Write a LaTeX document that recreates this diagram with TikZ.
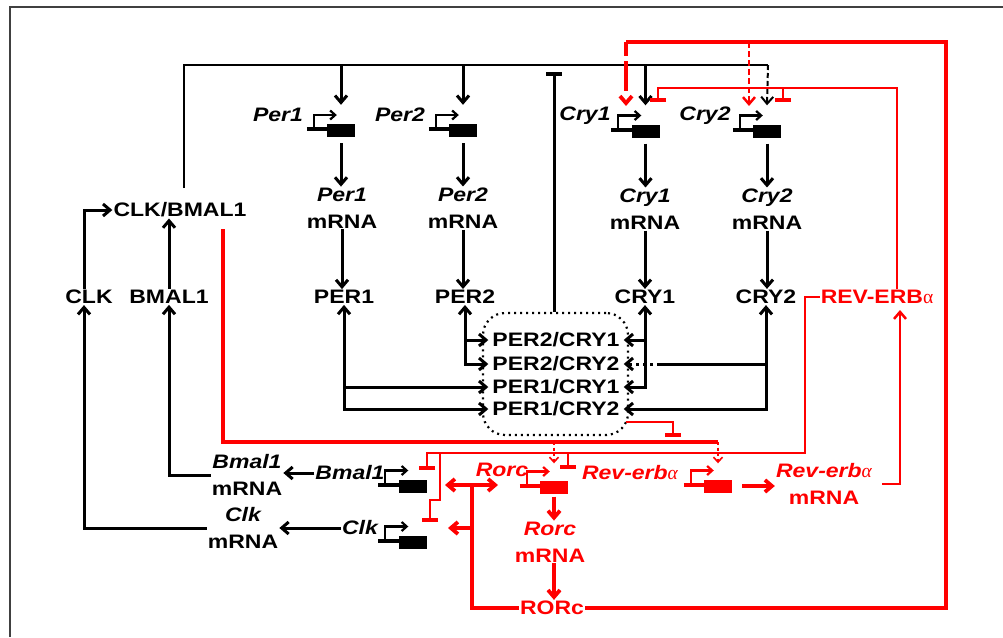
\documentclass[tikz,border=0pt]{standalone}
\usepackage{fontspec}
\setmainfont{Liberation Sans}[FakeStretch=1.18]
\newfontfamily\alf{Liberation Serif}
\usetikzlibrary{arrows.meta,calc}
\newcommand\gene[4]{%
  \node[genebox=#4] (#1) at (#2,#3) {};
  \draw[#4, line width=4pt] ($(#1.west)+(-20,-1.5)$) -- ($(#1.west)+(0.5,-1.5)$);
  \draw[#4, line width=2.2pt, -{Straight Barb[length=5pt,width=9pt]}] ($(#1.west)+(-13,-1.5)$) -- ($(#1.west)+(-13,-15.5)$) -- ($(#1.west)+(10,-15.5)$);
}
\begin{document}
\begin{tikzpicture}[x=1pt,y=-1pt,
  >={Straight Barb[length=7pt,width=12pt]},
  lab/.style={font=\fontsize{19.5}{27}\selectfont\bfseries, inner sep=1pt, align=center},
  cx/.style={lab, inner xsep=4pt, inner ysep=0pt},
  genebox/.style={fill=#1, minimum width=28pt, minimum height=13pt, inner sep=0pt},
  k/.style={line width=3pt},
  bus/.style={line width=2pt},
  rk/.style={red, line width=3.8pt},
  rt/.style={red, line width=2.5pt},
  inh/.style={-{Bar[width=16pt,line width=4pt]}},
  sd/.style={line width=1.6pt, dash pattern=on 3pt off 2.5pt, ->, >={Straight Barb[length=5pt,width=9pt]}}
]
\useasboundingbox (0,0) rectangle (1003,637);
\fill[white] (0,0) rectangle (1003,637);
\draw[black!75, line width=1.5pt] (10,637) -- (10,7) -- (1003,7);

% ---------- coordinates ----------
\coordinate (busS) at (184,188);
\coordinate (busL) at (184,65);
\coordinate (busR) at (768,65);
\coordinate (inhT) at (554,72);
\coordinate (rTL) at (626,42);
\coordinate (rTR) at (946,42);
\coordinate (rc2) at (749,42);
\coordinate (revTop) at (897,88);
\coordinate (revTL) at (658,88);
\coordinate (redS) at (223,229);
\coordinate (redBL) at (223,442);
\coordinate (redBR) at (718,442);
\coordinate (revL) at (805,453);
\coordinate (cxo) at (626,422);
\coordinate (cxb) at (673,437);
\coordinate (rvx) at (900,310);

% ---------- genes ----------
\gene{gPer1}{341}{130.5}{black}
\gene{gPer2}{463}{130.5}{black}
\gene{gCry1}{645.5}{131}{black}
\gene{gCry2}{767}{131}{black}
\gene{gBmal}{412.5}{486}{black}
\gene{gClk}{412.5}{542}{black}
\gene{gRorc}{554}{487}{red}
\gene{gRev}{718}{486}{red}

% ---------- labels ----------
\node[lab] (clkbmal) at (180,210) {CLK/BMAL1};
\node[lab] (CLK) at (89,297) {CLK};
\node[lab] (BMAL1) at (169,297) {BMAL1};
\node[lab] (PER1) at (344,297) {PER1};
\node[lab] (PER2) at (465,297) {PER2};
\node[lab] (CRY1) at (645,297) {CRY1};
\node[lab] (CRY2) at (766,297) {CRY2};
\node[lab,red] (REV) at (877,297) {REV-ERB{\alf\mdseries α}};
\node[lab] (per1l) at (278,115) {\itshape Per1};
\node[lab] (per2l) at (400,115) {\itshape Per2};
\node[lab] (cry1l) at (585,116) {\itshape Cry1};
\node[lab] (cry2l) at (705,116) {\itshape Cry2};
\node[lab] (per1m) at (342,208) {\itshape Per1\\mRNA};
\node[lab] (per2m) at (463,208) {\itshape Per2\\mRNA};
\node[lab] (cry1m) at (645,209) {\itshape Cry1\\mRNA};
\node[lab] (cry2m) at (767,209) {\itshape Cry2\\mRNA};
\node[lab] (bmall) at (350,473) {\itshape Bmal1};
\node[lab] (clkl) at (360,528) {\itshape Clk};
\node[lab] (bmalm) at (247,475) {\itshape Bmal1\\mRNA};
\node[lab] (clkm) at (243,528) {\itshape Clk\\mRNA};
\node[lab,red] (rorcl) at (502,470) {\itshape Rorc};
\node[lab,red] (revl) at (630,473) {\itshape Rev-erb{\alf\mdseries α}};
\node[lab,red] (rorcm) at (550,542) {\itshape Rorc\\mRNA};
\node[lab,red] (revm) at (824,484) {\itshape Rev-erb{\alf\mdseries α}\\mRNA};
\node[lab,red] (RORc) at (552,608) {RORc};

% complex
\node[cx] (c21) at (556,340) {PER2/CRY1};
\node[cx] (c22) at (556,364) {PER2/CRY2};
\node[cx] (c11) at (556,387) {PER1/CRY1};
\node[cx] (c12) at (556,409) {PER1/CRY2};
\node[draw, line width=2.2pt, dash pattern=on 2pt off 4pt, rounded corners=22pt, minimum width=145pt, minimum height=122pt] (cplx) at (555.5,374) {};

% ---------- black connectors ----------
\draw[bus] (busS) -- (busL) -- (busR);
\foreach \g in {gPer1,gPer2,gCry1} \draw[k,->] (busL -| \g) -- ([yshift=19pt]\g.north);
\draw[line width=2pt,->,dash pattern=on 5pt off 3pt] (busR) -- ([yshift=19pt]gCry2.north);

\foreach \g/\m in {gPer1/per1m,gPer2/per2m,gCry1/cry1m,gCry2/cry2m}
  \draw[k,->] ([yshift=-6pt]\g.south) -- (\g.south |- \m.north);
\foreach \m/\p in {per1m/PER1,per2m/PER2,cry1m/CRY1,cry2m/CRY2}
  \draw[k,->] (\m.south) -- (\m.south |- \p.north);

\draw[k,<->] (PER1.south) -- (PER1.south |- c12) -- (c12.west);
\draw[k,->] (PER1.south |- c11) -- (c11.west);
\draw[k,<->] (PER2.south) -- (PER2.south |- c22) -- (c22.west);
\draw[k,->] (PER2.south |- c21) -- (c21.west);
\draw[k,<->] (CRY1.south) -- (CRY1.south |- c11) -- (c11.east);
\draw[k,->] (CRY1.south |- c21) -- (c21.east);
\draw[k,<->] (CRY2.south) -- (CRY2.south |- c12) -- (c12.east);
\draw[k] (CRY2.south |- c22) -- ($(CRY1.south |- c22)+(15,0)$);
\draw[k,->,dash pattern=on 3pt off 4pt] ($(CRY1.south |- c22)+(15,0)$) -- (c22.east);

\draw[k,inh] (inhT |- cplx.north) -- (inhT);

\draw[k,->] ([xshift=-5pt]CLK.north) |- (clkbmal.west);
\draw[k,->] (BMAL1.north) -- (BMAL1.north |- clkbmal.south);
\draw[k,->] (bmalm.west) -| (BMAL1.south);
\draw[k,->] (clkm.west) -| ([xshift=-5pt]CLK.south);
\draw[k,->] (bmall.west) -- (bmall.west -| bmalm.east);
\draw[k,->] (clkl.west) -- (clkl.west -| clkm.east);

% ---------- red connectors ----------
\draw[rk] (redS) -- (redBL) -- (redBR);
\draw[rt,inh] (cxo) -| (cxb);
\draw[rt,sd] (gRorc |- redBR) -- ([yshift=17pt]gRorc.north);
\draw[rt,sd] (redBR) -- ([yshift=16pt]gRev.north);

\draw[rt,inh] (REV.west) -| (revL) -| (427,470);
\draw[rt,inh] (568,453) -- (568,469);
\draw[rt,inh] (440,453) -- (440,500) -- (430,500) -- (430,522);

\draw[rk] (RORc.west) -| (472,485);
\draw[rk,<->] (445,485) -- (498,485);
\draw[rk,->] (472,528) -- (448,528);
\draw[rk] (RORc.east) -| (rTR) -- (rTL);
\draw[rk,->,dash pattern=on 14pt off 5pt on 30pt] (rTL) -- (626,106);
\draw[rt,->,dash pattern=on 6pt off 3pt] (rc2) -- (749,106);

\draw[rk,->] ([yshift=-3pt]gRorc.south) -- (gRorc.south |- rorcm.north);
\draw[rk,->] (rorcm.south -| gRorc) -- (gRorc |- RORc.north);
\draw[rk,->] ([xshift=10pt]gRev.east) -- (revm.west |- gRev);
\draw[rt,->] ([xshift=9pt]revm.east) -| (rvx);

\draw[rt,inh] (REV.north -| revTop) |- (revTL) -- (658,102);
\draw[rt,inh] (783,88) -- (783,102);
\end{tikzpicture}
\end{document}
